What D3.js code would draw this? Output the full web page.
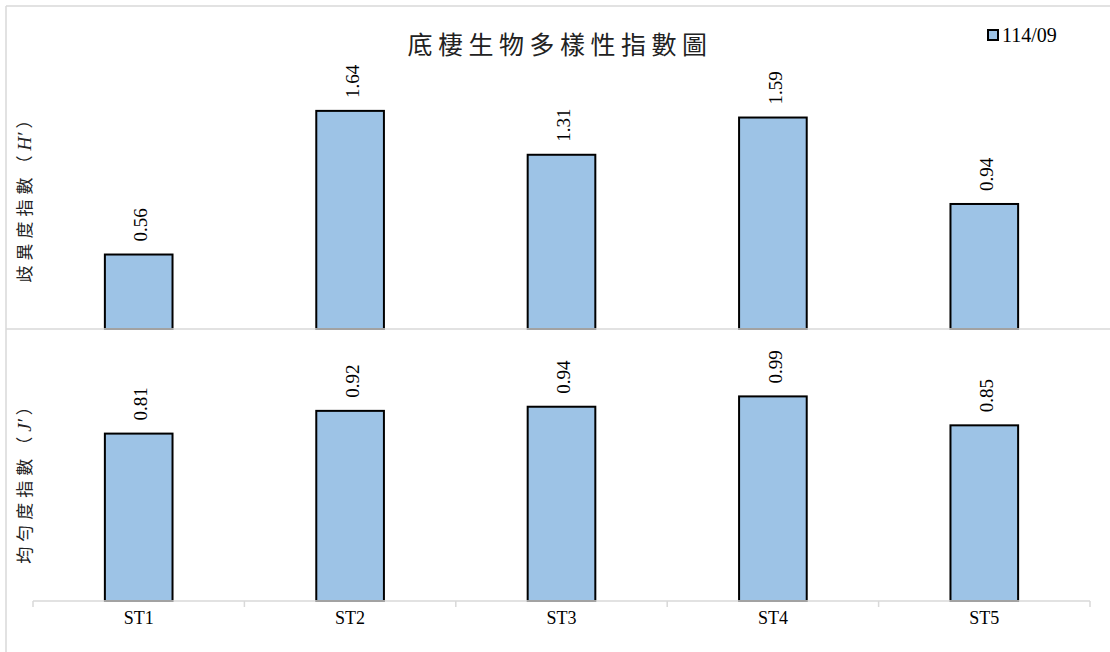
<!DOCTYPE html>
<html>
<head>
<meta charset="utf-8">
<script src="https://cdn.jsdelivr.net/npm/d3@7"></script>
<style>
  body { margin: 0; background: #fff; }
  svg { display: block; }
</style>
</head>
<body>
<svg class="chart"></svg>
<script>
const stations = ['ST1', 'ST2', 'ST3', 'ST4', 'ST5'];
const diversityH = [0.56, 1.64, 1.31, 1.59, 0.94];
const evennessJ = [0.81, 0.92, 0.94, 0.99, 0.85];
const seriesName = '114/09';
const chartTitle = '底棲生物多樣性指數圖';

const width = 1110;
const height = 652;
const serif = '"Liberation Serif", "Times New Roman", serif';
const cjk = '"Noto Sans CJK TC", "Noto Sans CJK SC", sans-serif';
const barFill = '#9dc3e6';

const svg = d3.select('.chart')
  .attr('width', width)
  .attr('height', height);

// frame lines
svg.append('line')
  .attr('x1', 6).attr('x2', 6).attr('y1', 6).attr('y2', height)
  .attr('stroke', '#d9d9d9').attr('stroke-width', 1.5);
svg.append('line')
  .attr('x1', 6).attr('x2', width).attr('y1', 6).attr('y2', 6)
  .attr('stroke', '#d9d9d9').attr('stroke-width', 1.5);

const x = d3.scaleBand()
  .domain(stations)
  .range([33, 1090])
  .paddingInner(0.68)
  .paddingOuter(0.34);

const yTop = d3.scaleLinear().domain([0, 2]).range([329, 63]);
const yBot = d3.scaleLinear().domain([0, 1.2]).range([601, 353]);

function panel(values, y) {
  const g = svg.append('g');
  g.selectAll('rect')
    .data(values)
    .join('rect')
    .attr('x', (d, i) => x(stations[i]))
    .attr('y', d => y(d))
    .attr('width', x.bandwidth())
    .attr('height', d => y(0) - y(d))
    .attr('fill', barFill)
    .attr('stroke', '#000')
    .attr('stroke-width', 2);

  g.selectAll('text')
    .data(values)
    .join('text')
    .attr('transform', (d, i) =>
      `translate(${x(stations[i]) + x.bandwidth() / 2 + 2},${y(d) - 13}) rotate(-90)`)
    .attr('dy', '0.35em')
    .attr('font-family', serif)
    .attr('font-size', 19)
    .attr('fill', '#000')
    .text(d => d.toFixed(2));
}

panel(diversityH, yTop);
panel(evennessJ, yBot);

// separator between panels
svg.append('line')
  .attr('x1', 6).attr('x2', width)
  .attr('y1', yTop(0)).attr('y2', yTop(0))
  .attr('stroke', '#d9d9d9').attr('stroke-width', 1.5);

// bottom category axis
const xAxis = svg.append('g')
  .attr('transform', `translate(0,${yBot(0)})`);
xAxis.append('line')
  .attr('x1', 33).attr('x2', 1090)
  .attr('stroke', '#d9d9d9').attr('stroke-width', 1.5);
const bounds = d3.range(stations.length + 1).map(i => 33 + i * (1057 / stations.length));
xAxis.selectAll('.tick')
  .data(bounds)
  .join('line')
  .attr('class', 'tick')
  .attr('x1', d => d).attr('x2', d => d)
  .attr('y1', 0).attr('y2', 6)
  .attr('stroke', '#d9d9d9').attr('stroke-width', 1.5);
xAxis.selectAll('text')
  .data(stations)
  .join('text')
  .attr('x', d => x(d) + x.bandwidth() / 2)
  .attr('y', 23)
  .attr('text-anchor', 'middle')
  .attr('font-family', serif)
  .attr('font-size', 18)
  .attr('fill', '#000')
  .text(d => d);

// title
svg.append('text')
  .attr('x', 560)
  .attr('y', 54)
  .attr('text-anchor', 'middle')
  .attr('font-family', cjk)
  .attr('font-size', 25)
  .attr('letter-spacing', 5.5)
  .attr('fill', '#222')
  .text(chartTitle);

// y titles
function yTitle(label, sym, cy) {
  const t = svg.append('text')
    .attr('transform', `translate(25,${cy}) rotate(-90)`)
    .attr('text-anchor', 'middle')
    .attr('dy', '0.35em')
    .attr('font-family', cjk)
    .attr('font-size', 17)
    .attr('fill', '#222');
  t.append('tspan').attr('letter-spacing', 5).text(label + '（');
  t.append('tspan')
    .attr('font-family', serif)
    .attr('font-style', 'italic')
    .attr('font-size', 19)
    .text(sym);
  t.append('tspan').attr('dx', 4).text('）');
}
yTitle('歧異度指數', 'H\u2032', 197);
yTitle('均勻度指數', 'J\u2032', 481);

// legend
const legend = svg.append('g').attr('transform', 'translate(988,30)');
legend.append('rect')
  .attr('width', 10).attr('height', 10)
  .attr('fill', barFill)
  .attr('stroke', '#000').attr('stroke-width', 2);
legend.append('text')
  .attr('x', 14).attr('y', 12)
  .attr('font-family', serif)
  .attr('font-size', 20)
  .attr('fill', '#000')
  .text(seriesName);
</script>
</body>
</html>
